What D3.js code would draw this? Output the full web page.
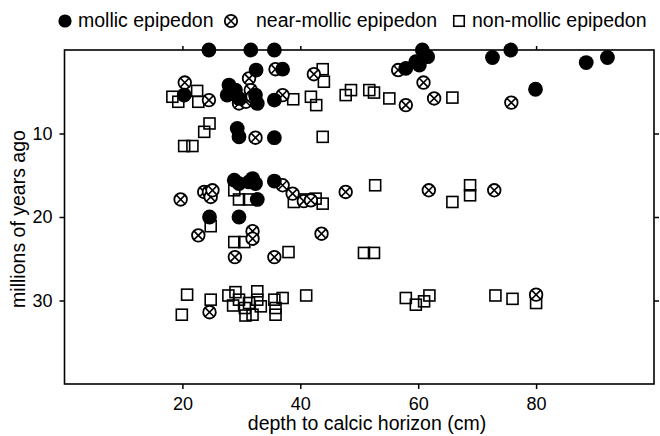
<!DOCTYPE html>
<html lang="en">

<head>
    <meta charset="utf-8">
    <title>Calcic horizon depth</title>
    <script src="https://d3js.org/d3.v7.min.js"></script>
    <style>
        body { margin: 0; background: #fff; }
        text { font-family: "Liberation Sans", Arial, Helvetica, sans-serif; fill: #000; }
    </style>
</head>

<body>
    <div id="dataviz"></div>
    <script>

        // [depth to calcic horizon (cm), millions of years ago]
        var mollic = [
            [24.5, 0], [31.6, 0], [35.6, 0], [60.7, 0], [61.6, 0.8], [60.2, 1.8], [59.6, 1.4], [57.9, 2.2],
            [72.6, 0.9], [75.7, 0], [88.5, 1.5], [92.1, 0.9], [79.9, 4.7],
            [32.5, 2.4], [37.0, 2.3], [20.3, 5.4], [27.9, 4.2], [27.6, 5.4], [28.8, 5.2], [29.6, 5.8],
            [29.0, 4.8], [32.7, 6.4], [32.4, 5.4], [35.6, 6.0],
            [29.3, 9.4], [29.6, 10.4], [35.6, 10.5],
            [28.8, 15.6], [31.3, 15.8], [32.4, 16.0], [29.6, 16.0], [31.9, 15.4], [35.6, 15.7], [32.7, 17.9],
            [24.6, 20.0], [29.6, 20.0]
        ];

        var nearMollic = [
            [56.6, 2.4], [60.9, 3.9], [62.7, 5.8], [57.9, 6.6], [75.8, 6.3], [42.3, 2.9], [35.8, 2.3],
            [31.3, 3.4], [20.4, 3.9], [24.5, 6.0], [29.6, 6.4], [30.8, 6.2], [31.6, 4.8], [31.9, 5.6],
            [37.0, 5.4], [32.4, 10.5],
            [19.7, 17.9], [23.7, 17.0], [24.5, 17.0], [24.8, 17.6], [25.1, 16.8], [37.0, 16.2], [38.7, 17.2],
            [40.6, 18.1], [41.8, 18.0], [47.7, 17.0], [61.8, 16.8], [72.9, 16.8],
            [22.7, 22.2], [31.9, 21.7], [31.9, 22.6], [43.6, 22.0], [28.9, 24.8], [35.6, 24.8],
            [24.6, 31.4], [80.0, 29.3]
        ];

        var nonMollic = [
            [65.8, 5.7], [55.1, 5.8], [51.7, 4.8], [52.5, 5.1], [47.7, 5.4], [48.6, 4.8], [41.8, 5.6],
            [42.7, 6.6], [43.8, 2.3], [44.0, 3.8], [43.8, 10.4], [18.3, 5.6], [19.3, 6.2], [22.5, 4.9],
            [22.7, 6.2], [38.8, 5.9], [23.7, 9.8], [24.6, 8.8], [20.3, 11.5], [21.7, 11.5],
            [28.8, 16.8], [29.6, 17.9], [31.3, 17.9], [38.9, 18.2], [40.9, 17.9], [42.6, 17.8], [43.8, 18.4],
            [52.7, 16.2], [65.8, 18.2], [68.8, 16.2], [68.8, 17.4], [24.8, 21.1], [28.8, 23.0], [30.5, 23.0],
            [38.0, 24.2], [50.8, 24.3], [52.5, 24.3],
            [20.8, 29.3], [19.9, 31.7], [24.8, 29.9], [27.8, 29.4], [29.0, 29.0], [28.6, 30.6], [29.6, 29.9],
            [30.6, 30.9], [30.7, 31.8], [31.9, 31.7], [31.3, 30.3], [32.7, 28.9], [32.7, 29.9], [33.3, 30.7],
            [35.6, 29.9], [35.8, 30.9], [35.8, 31.7], [37.0, 29.7], [41.0, 29.4], [57.9, 29.7], [59.6, 30.5],
            [61.0, 30.1], [61.9, 29.4], [73.1, 29.4], [76.0, 29.8], [80.0, 30.3]
        ];

        var xTicks = [20, 40, 60, 80];
        var yTicks = [10, 20, 30];
        var legendLabels = ["mollic epipedon", "near-mollic epipedon", "non-mollic epipedon"];

        var svg = d3.select("#dataviz")
            .append("svg")
            .attr("width", 660)
            .attr("height", 436);

        var x = d3.scaleLinear()
            .domain([0, 100])
            .range([64.5, 654]);

        var y = d3.scaleLinear()
            .domain([0, 40])
            .range([50, 384]);

        // axes (ticks on all four sides, labels on bottom and left)
        svg.append("g")
            .attr("class", "axis")
            .attr("transform", "translate(0,384)")
            .call(d3.axisBottom(x).tickValues(xTicks).tickSize(5).tickSizeOuter(0).tickPadding(8));

        svg.append("g")
            .attr("class", "axis")
            .attr("transform", "translate(64.5,0)")
            .call(d3.axisLeft(y).tickValues(yTicks).tickSize(5).tickSizeOuter(0).tickPadding(7));

        svg.append("g")
            .attr("class", "axis")
            .attr("transform", "translate(0,50)")
            .call(d3.axisTop(x).tickValues(xTicks).tickSize(4).tickSizeOuter(0).tickFormat(""));

        svg.append("g")
            .attr("class", "axis")
            .attr("transform", "translate(654,0)")
            .call(d3.axisRight(y).tickValues(yTicks).tickSize(5).tickSizeOuter(0).tickFormat(""));

        svg.selectAll(".axis path").remove();
        svg.selectAll(".axis line").attr("stroke", "#000").attr("stroke-width", 1.5);
        svg.selectAll(".axis text")
            .style("font-size", "18px")
            .style("font-family", "'Liberation Sans', Arial, sans-serif")
            .attr("fill", "#000");

        svg.append("rect")
            .attr("x", x(0))
            .attr("y", y(0))
            .attr("width", x(100) - x(0))
            .attr("height", y(40) - y(0))
            .attr("fill", "none")
            .attr("stroke", "#000")
            .attr("stroke-width", 1.6);

        // axis titles
        svg.append("text")
            .attr("x", 367)
            .attr("y", 430)
            .attr("text-anchor", "middle")
            .style("font-size", "19.5px")
            .text("depth to calcic horizon (cm)");

        svg.append("text")
            .attr("transform", "translate(25,219) rotate(-90)")
            .attr("text-anchor", "middle")
            .style("font-size", "19.5px")
            .text("millions of years ago");

        // marks
        function drawSquare(g, cx, cy, s) {
            g.append("rect")
                .attr("x", cx - s / 2)
                .attr("y", cy - s / 2)
                .attr("width", s)
                .attr("height", s)
                .attr("fill", "none")
                .attr("stroke", "#000")
                .attr("stroke-width", 1.6);
        }

        function drawCross(g, cx, cy, r) {
            var k = r * 0.72;
            g.append("circle")
                .attr("cx", cx).attr("cy", cy).attr("r", r)
                .attr("fill", "#fff")
                .attr("stroke", "#000")
                .attr("stroke-width", 1.8);
            g.append("path")
                .attr("d", "M" + (cx - k) + "," + (cy - k) + "L" + (cx + k) + "," + (cy + k) +
                    "M" + (cx - k) + "," + (cy + k) + "L" + (cx + k) + "," + (cy - k))
                .attr("stroke", "#000")
                .attr("stroke-width", 1.6);
        }

        var plot = svg.append("g");

        nonMollic.forEach(function (d) {
            drawSquare(plot, x(d[0]), y(d[1]), 11);
        });

        nearMollic.forEach(function (d) {
            drawCross(plot, x(d[0]), y(d[1]), 6.3);
        });

        plot.selectAll("circle.mollic")
            .data(mollic)
            .enter()
            .append("circle")
            .attr("class", "mollic")
            .attr("cx", function (d) { return x(d[0]); })
            .attr("cy", function (d) { return y(d[1]); })
            .attr("r", 7.4)
            .attr("fill", "#000");

        // legend
        var legend = svg.append("g");
        legend.append("circle").attr("cx", 65).attr("cy", 21).attr("r", 6.6).attr("fill", "#000");
        drawCross(legend, 231, 21, 6.2);
        drawSquare(legend, 459, 21, 10.5);

        var legendX = [78, 256, 472];
        legend.selectAll("text")
            .data(legendLabels)
            .enter()
            .append("text")
            .attr("x", function (d, i) { return legendX[i]; })
            .attr("y", 27)
            .style("font-size", "19.5px")
            .text(function (d) { return d; });

    </script>
</body>

</html>
